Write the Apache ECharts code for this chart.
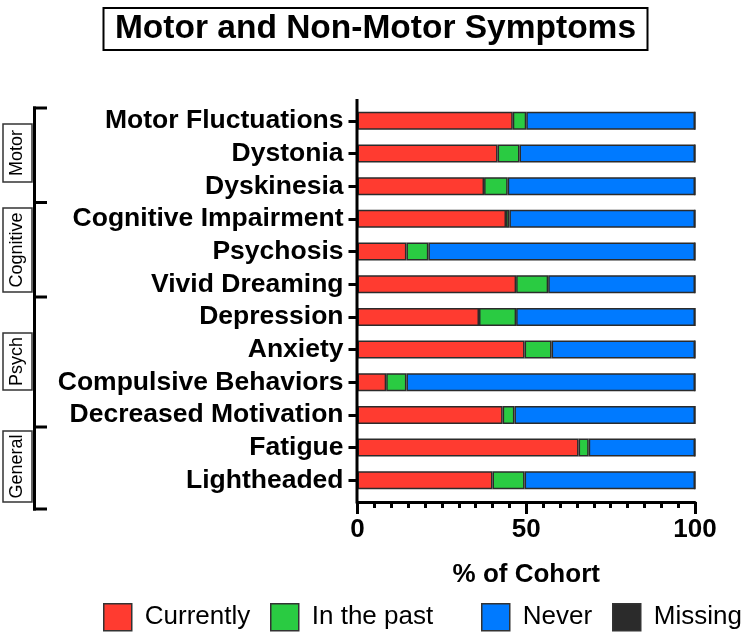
<!DOCTYPE html>
<html>
<head>
<meta charset="utf-8">
<script src="https://cdn.jsdelivr.net/npm/echarts@6/dist/echarts.min.js"></script>
<style>
html,body{margin:0;padding:0;background:#fff;}
#chart{width:751px;height:636px;}
</style>
</head>
<body>
<div id="chart"></div>
<script>
const categories = ['Motor Fluctuations','Dystonia','Dyskinesia','Cognitive Impairment','Psychosis','Vivid Dreaming','Depression','Anxiety','Compulsive Behaviors','Decreased Motivation','Fatigue','Lightheaded'];
const currently = [46, 41.5, 37.5, 44, 14.5, 47, 36, 49.5, 8.5, 43, 65.5, 40];
const inThePast = [4, 6.5, 7, 1, 6.5, 9.5, 11, 8, 6, 3.5, 3, 9.5];
const never = [50, 52, 55.5, 55, 79, 43.5, 53, 42.5, 85.5, 53.5, 31.5, 50.5];
const missing = [0, 0, 0, 0, 0, 0, 0, 0, 0, 0, 0, 0];
const xTicks = [0, 50, 100];
const groups = ['Motor', 'Cognitive', 'Psych', 'General'];

const FONT = '"Liberation Sans", Arial, Helvetica, sans-serif';
const chart = echarts.init(document.getElementById('chart'), null, {renderer: 'canvas'});

const seriesDefs = [
  {name: 'Currently', data: currently, color: '#FF3B30'},
  {name: 'In the past', data: inThePast, color: '#2ACB42'},
  {name: 'Never', data: never, color: '#007AFF'},
  {name: 'Missing', data: missing, color: '#2B2B2B'}
];

const legendPos = [103, 270, 481, 612];
const legends = seriesDefs.map((s, i) => ({
  data: [s.name],
  left: legendPos[i],
  top: 603,
  padding: 0,
  itemWidth: 28,
  itemHeight: 27,
  icon: 'rect',
  selectedMode: false,
  itemStyle: {borderColor: '#333', borderWidth: 1.5},
  textStyle: {fontFamily: FONT, fontSize: 26, color: '#000', padding: [0, 0, 0, 8]}
}));

// group bracket decorations
const bracketX = 34.5;
const bracketYs = [108, 202.5, 297, 427, 509];
const boxes = [
  {name: groups[0], y0: 124, y1: 182},
  {name: groups[1], y0: 208, y1: 292},
  {name: groups[2], y0: 333, y1: 390},
  {name: groups[3], y0: 431, y1: 502}
];
const graphics = [];
graphics.push({type: 'line', shape: {x1: bracketX, y1: bracketYs[0] - 1.5, x2: bracketX, y2: bracketYs[4] + 1.5}, style: {stroke: '#000', lineWidth: 3}});
bracketYs.forEach(y => graphics.push({type: 'line', shape: {x1: bracketX - 1.5, y1: y, x2: 47, y2: y}, style: {stroke: '#000', lineWidth: 3}}));
boxes.forEach(b => {
  graphics.push({type: 'rect', shape: {x: 3, y: b.y0, width: 29, height: b.y1 - b.y0}, style: {fill: '#fff', stroke: '#333', lineWidth: 1.5}});
  graphics.push({type: 'text', x: 17.5, y: (b.y0 + b.y1) / 2, rotation: Math.PI / 2,
    style: {text: b.name, fontFamily: FONT, fontSize: 18, fill: '#000', textAlign: 'center', textVerticalAlign: 'middle'}});
});
// y axis line (extends slightly beyond the category band like the reference)
graphics.push({type: 'line', shape: {x1: 357, y1: 99, x2: 357, y2: 503.5}, style: {stroke: '#000', lineWidth: 3}, z: 10});

const option = {
  animation: false,
  backgroundColor: '#fff',
  title: {
    text: 'Motor and Non-Motor Symptoms',
    left: 'center',
    top: 8,
    borderColor: '#000',
    borderWidth: 2,
    padding: [4, 12],
    textStyle: {fontFamily: FONT, fontSize: 33.5, fontWeight: 'bold', color: '#000'}
  },
  legend: legends,
  grid: {left: 357.5, right: 56, top: 104.5, bottom: 139.4, containLabel: false},
  xAxis: {
    type: 'value',
    min: 0, max: 100, interval: 50,
    offset: 5.5,
    name: '% of Cohort',
    nameLocation: 'middle',
    nameGap: 60,
    nameTextStyle: {fontFamily: FONT, fontSize: 26, fontWeight: 'bold', color: '#000'},
    axisLine: {show: true, lineStyle: {color: '#000', width: 3}},
    axisTick: {show: true, length: 12, lineStyle: {color: '#000', width: 3}},
    minorTick: {show: true, splitNumber: 10, length: 6, lineStyle: {color: '#000', width: 3}},
    splitLine: {show: false},
    axisLabel: {
      margin: 15,
      fontFamily: FONT, fontSize: 26, fontWeight: 'bold', color: '#000',
      formatter: v => (xTicks.indexOf(v) >= 0 ? String(v) : '')
    }
  },
  yAxis: {
    type: 'category',
    data: categories,
    inverse: true,
    axisLine: {show: false},
    axisTick: {show: true, interval: 0, alignWithLabel: true, length: 9, lineStyle: {color: '#000', width: 3}},
    axisLabel: {interval: 0, hideOverlap: false, margin: 14, fontFamily: FONT, fontSize: 26.5, fontWeight: 'bold', color: '#000'},
    splitLine: {show: false}
  },
  series: seriesDefs.map(s => ({
    name: s.name,
    type: 'bar',
    stack: 'total',
    data: s.data,
    barWidth: 18,
    itemStyle: {color: s.color, borderColor: '#2b2b2b', borderWidth: 1.5},
    emphasis: {disabled: true}
  })),
  graphic: graphics
};
chart.setOption(option);
</script>
</body>
</html>
